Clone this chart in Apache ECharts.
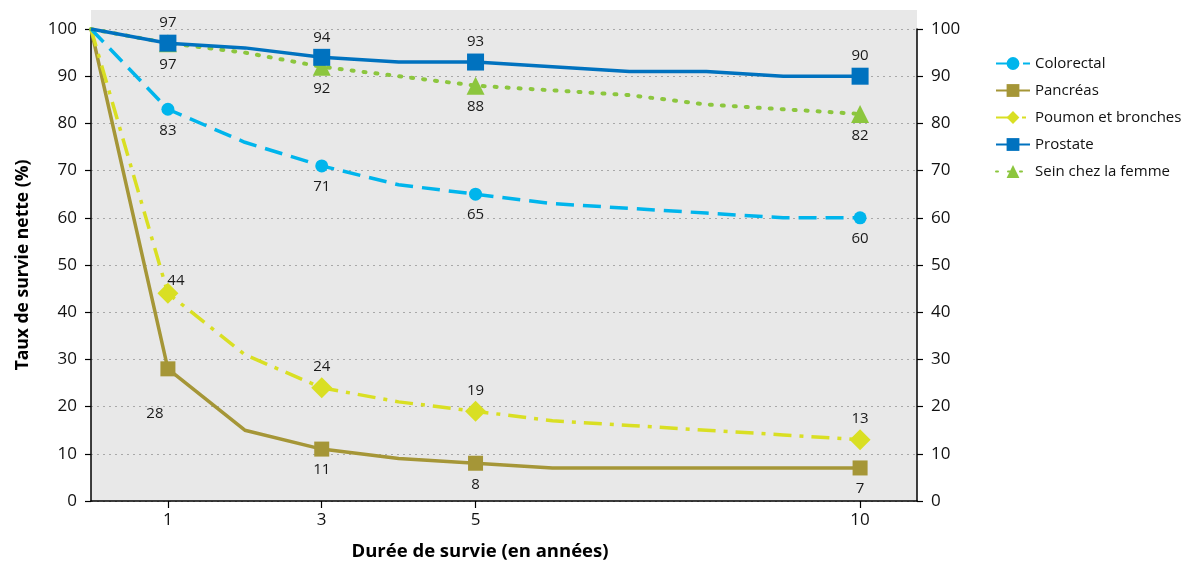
<!DOCTYPE html>
<html>
<head>
<meta charset="utf-8">
<script src="https://cdn.jsdelivr.net/npm/echarts@6/dist/echarts.min.js"></script>
<style>
  html, body { margin: 0; padding: 0; background: #fff; }
  #chart { width: 1182px; height: 563px; }
</style>
</head>
<body>
<div id="chart"></div>
<script>
// années de survie
const years = [0, 1, 2, 3, 4, 5, 6, 7, 8, 9, 10];
// années avec marqueur + étiquette
const markedYears = [1, 3, 5, 10];
const xTicks = [1, 3, 5, 10];

const colorectal = [100, 83, 76, 71, 67, 65, 63, 62, 61, 60, 60];
const pancreas = [100, 28, 15, 11, 9, 8, 7, 7, 7, 7, 7];
const poumon = [100, 44, 31, 24, 21, 19, 17, 16, 15, 14, 13];
const prostate = [100, 97, 96, 94, 93, 93, 92, 91, 91, 90, 90];
const sein = [100, 97, 95, 92, 90, 88, 87, 86, 84, 83, 82];

const seriesNames = ["Colorectal", "Pancréas", "Poumon et bronches", "Prostate", "Sein chez la femme"];

const FONT = "Open Sans";
// zone du graphique
const G = { left: 91, right: 265, top: 29, bottom: 62 };

function buildData(values, labelOverrides) {
  return years.map((y, i) => {
    const marked = markedYears.indexOf(y) >= 0;
    const item = { value: [y, values[i]] };
    if (!marked) {
      item.symbol = "none";
      item.label = { show: false };
    } else if (labelOverrides && labelOverrides[y]) {
      item.label = labelOverrides[y];
    }
    return item;
  });
}

function makeSeries(name, values, opt) {
  return {
    name: name,
    type: "line",
    data: buildData(values, opt.labelOverrides),
    symbol: opt.symbol,
    symbolSize: opt.symbolSize,
    showSymbol: true,
    z: opt.z,
    itemStyle: { color: opt.color },
    lineStyle: {
      color: opt.color,
      width: opt.width || 3.5,
      type: opt.lineType,
      cap: opt.cap || "butt"
    },
    label: {
      show: true,
      position: opt.labelPos,
      distance: opt.labelDist || 7,
      color: "#1a1a1a",
      fontFamily: FONT,
      fontSize: 15
    },
    emphasis: { disabled: true }
  };
}

const yAxisBase = {
  type: "value",
  min: 0,
  max: 100,
  interval: 10,
  axisLine: { show: true, lineStyle: { color: "#000", width: 1.5 } },
  axisTick: { show: true, length: 6, lineStyle: { color: "#000", width: 1.2 } },
  axisLabel: { color: "#111", fontSize: 17, margin: 14, fontFamily: FONT }
};

const options = {
  animation: false,
  backgroundColor: "#fff",
  textStyle: { fontFamily: FONT },
  grid: {
    left: G.left,
    right: G.right,
    top: G.top,
    bottom: G.bottom,
    outerBoundsMode: "none",
    containLabel: false,
    show: false
  },
  graphic: [
    {
      // fond gris, dépasse au-dessus de 100
      type: "rect",
      z: -10,
      silent: true,
      shape: { x: G.left, y: 10, width: 1182 - G.left - G.right, height: 563 - G.bottom - 10 },
      style: { fill: "#e8e8e8" }
    }
  ],
  legend: {
    orient: "vertical",
    left: 990,
    top: 51,
    itemWidth: 34,
    itemHeight: 16,
    itemGap: 12,
    textStyle: { fontFamily: FONT, fontSize: 15, color: "#111" },
    data: seriesNames
  },
  xAxis: {
    type: "value",
    min: 0,
    max: 10.74,
    name: "Durée de survie (en années)",
    nameLocation: "middle",
    nameGap: 41,
    nameTextStyle: {
      fontFamily: FONT,
      fontWeight: "bold",
      fontSize: 18.5,
      color: "#000",
      padding: [0, 48, 0, 0]
    },
    axisLine: { show: true, lineStyle: { color: "#000", width: 1.5 } },
    axisTick: { show: true, length: 7, lineStyle: { color: "#000", width: 1.2 }, customValues: xTicks },
    axisLabel: { color: "#111", fontSize: 17, margin: 11, fontFamily: FONT, customValues: xTicks },
    splitLine: { show: false }
  },
  yAxis: [
    Object.assign({}, yAxisBase, {
      name: "Taux de survie nette (%)",
      nameLocation: "middle",
      nameGap: 59,
      nameTextStyle: { fontFamily: FONT, fontWeight: "bold", fontSize: 17.5, color: "#000" },
      splitLine: { show: true, lineStyle: { color: "#a8a8a8", type: [2, 4], width: 1 } }
    }),
    Object.assign({}, yAxisBase, {
      position: "right",
      splitLine: { show: false }
    })
  ],
  series: [
    makeSeries("Colorectal", colorectal, {
      color: "#00b5ec", symbol: "circle", symbolSize: 13, lineType: [18, 9],
      labelPos: "bottom", labelDist: 7, z: 3
    }),
    makeSeries("Pancréas", pancreas, {
      color: "#a59637", symbol: "rect", symbolSize: 15, lineType: "solid",
      labelPos: "bottom", labelDist: 6, z: 2,
      labelOverrides: { 1: { position: "bottom", offset: [-13, 24] } }
    }),
    makeSeries("Poumon et bronches", poumon, {
      color: "#d9df23", symbol: "diamond", symbolSize: 21, lineType: [18, 8, 4, 8],
      labelPos: "top", labelDist: 3, z: 2,
      labelOverrides: { 1: { position: "top", offset: [8, 8] } }
    }),
    makeSeries("Prostate", prostate, {
      color: "#0072bf", symbol: "rect", symbolSize: 17, lineType: "solid",
      labelPos: "top", labelDist: 4, z: 5
    }),
    makeSeries("Sein chez la femme", sein, {
      color: "#8cc63e", symbol: "triangle", symbolSize: 18, lineType: [2, 10], cap: "round",
      width: 4, labelPos: "bottom", labelDist: 5, z: 4
    })
  ]
};

const chart = echarts.init(document.getElementById("chart"));
chart.setOption(options);
window.addEventListener("resize", () => {
  chart.resize();
});
</script>
</body>
</html>
